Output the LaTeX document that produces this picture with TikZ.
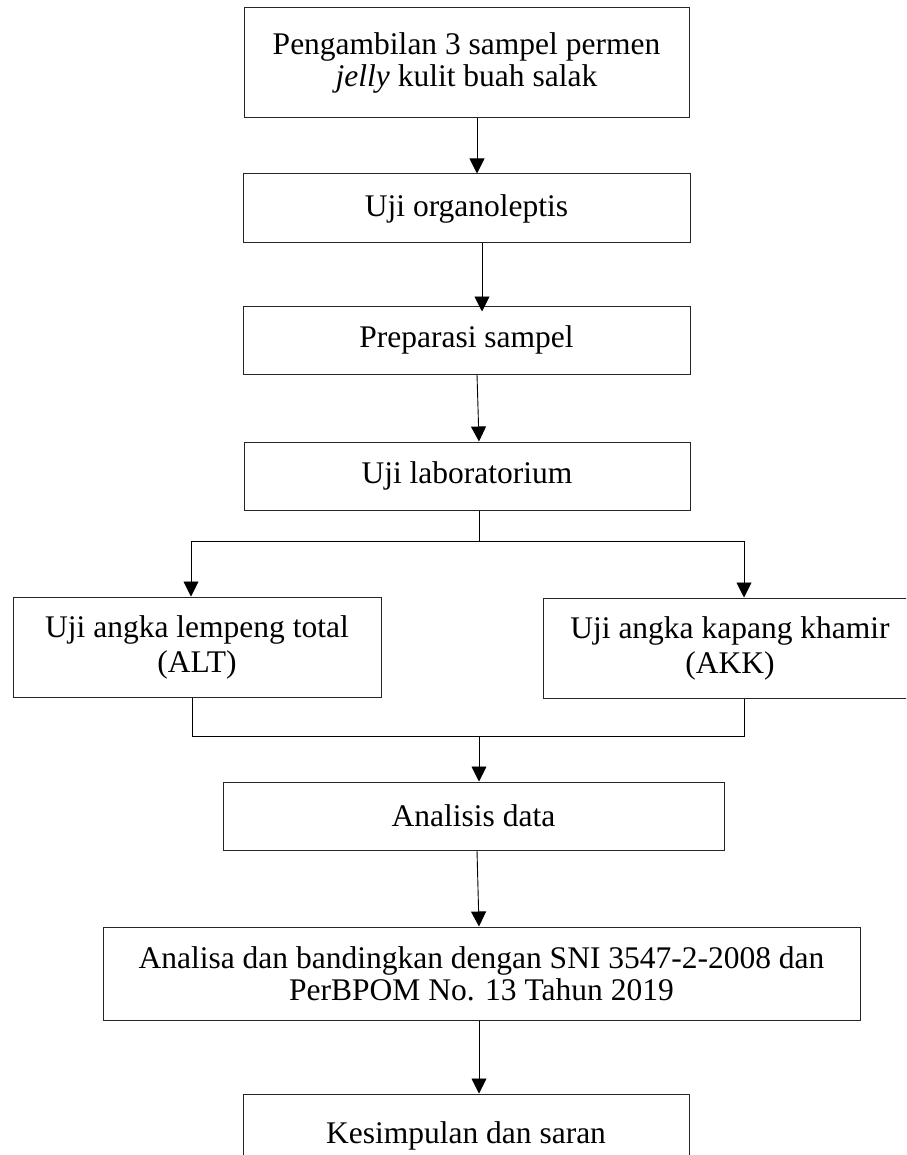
\documentclass[tikz,border=0pt]{standalone}
\usepackage{fontspec}
\setmainfont{Liberation Serif}
\usetikzlibrary{arrows.meta}
\begin{document}
\begin{tikzpicture}[x=1pt,y=-1pt,
  box/.style={draw=black!85, line width=1pt, rectangle, inner sep=0pt, align=center,
    font=\fontsize{31.5}{32}\selectfont},
  widebox/.style={box, font=\fontsize{31.5}{35}\selectfont},
  link/.style={draw=black, line width=0.9pt},
  arr/.style={link, -{Triangle[length=15pt,width=15pt]}}]
  \useasboundingbox (0,0) rectangle (906,1155);
  \begin{scope}
    \clip (0,0) rectangle (906,1155);
    % process boxes
    \node[box, minimum width=445pt, minimum height=110pt] (ambil) at (466.5,63)
      {Pengambilan 3 sampel permen\\\textit{jelly} kulit buah salak};
    \node[box, minimum width=447pt, minimum height=69pt] (organo) at (466.5,208.5)
      {Uji organoleptis};
    \node[box, minimum width=447pt, minimum height=68pt] (prep) at (466.5,340)
      {Preparasi sampel};
    \node[box, minimum width=446pt, minimum height=68pt] (lab) at (467,476)
      {Uji laboratorium};
    \node[widebox, minimum width=368pt, minimum height=100pt] (alt) at (197,647)
      {Uji angka lempeng total\\(ALT)};
    \node[widebox, minimum width=374pt, minimum height=100pt] (akk) at (730,648)
      {Uji angka kapang khamir\\(AKK)};
    \node[box, minimum width=501pt, minimum height=68pt] (data) at (473.5,816)
      {Analisis data};
    \node[box, minimum width=757pt, minimum height=93pt] (banding) at (481.5,973.5)
      {Analisa dan bandingkan dengan SNI 3547-2-2008 dan\\PerBPOM No. 13 Tahun 2019};
    \node[box, minimum width=446pt, minimum height=84pt] (simpul) at (466,1136)
      {Kesimpulan dan saran};

    % junction points of the branch and merge lines
    \coordinate (split) at (479,541);
    \coordinate (splitL) at (191,541);
    \coordinate (splitR) at (744,541);
    \coordinate (mergeL) at (192,736);
    \coordinate (mergeR) at (744,736);
    \coordinate (merge) at (479,736);

    % main sequence
    \draw[arr] ([xshift=10.5pt]ambil.south) -- ([xshift=10.5pt]organo.north);
    \draw[arr] ([xshift=15.5pt]organo.south) -- ([xshift=15.5pt,yshift=-6pt]prep.north);
    \draw[arr] ([xshift=10.5pt]prep.south) -- ([xshift=12pt]lab.north);

    % branch to the two tests
    \draw[link] ([xshift=12pt]lab.south) -- (split);
    \draw[link] (splitL) -- (splitR);
    \draw[arr] (splitL) -- (alt.north -| splitL);
    \draw[arr] (splitR) -- (akk.north -| splitR);

    % merge of the two tests
    \draw[link] (alt.south -| mergeL) -- (mergeL) -- (mergeR) -- (akk.south -| mergeR);
    \draw[arr] (merge) -- (data.north -| merge);

    % remaining steps
    \draw[arr] ([xshift=3.5pt]data.south) -- ([xshift=-2.5pt]banding.north);
    \draw[arr] ([xshift=-2.5pt]banding.south) -- ([xshift=13pt]simpul.north);
  \end{scope}
\end{tikzpicture}
\end{document}
